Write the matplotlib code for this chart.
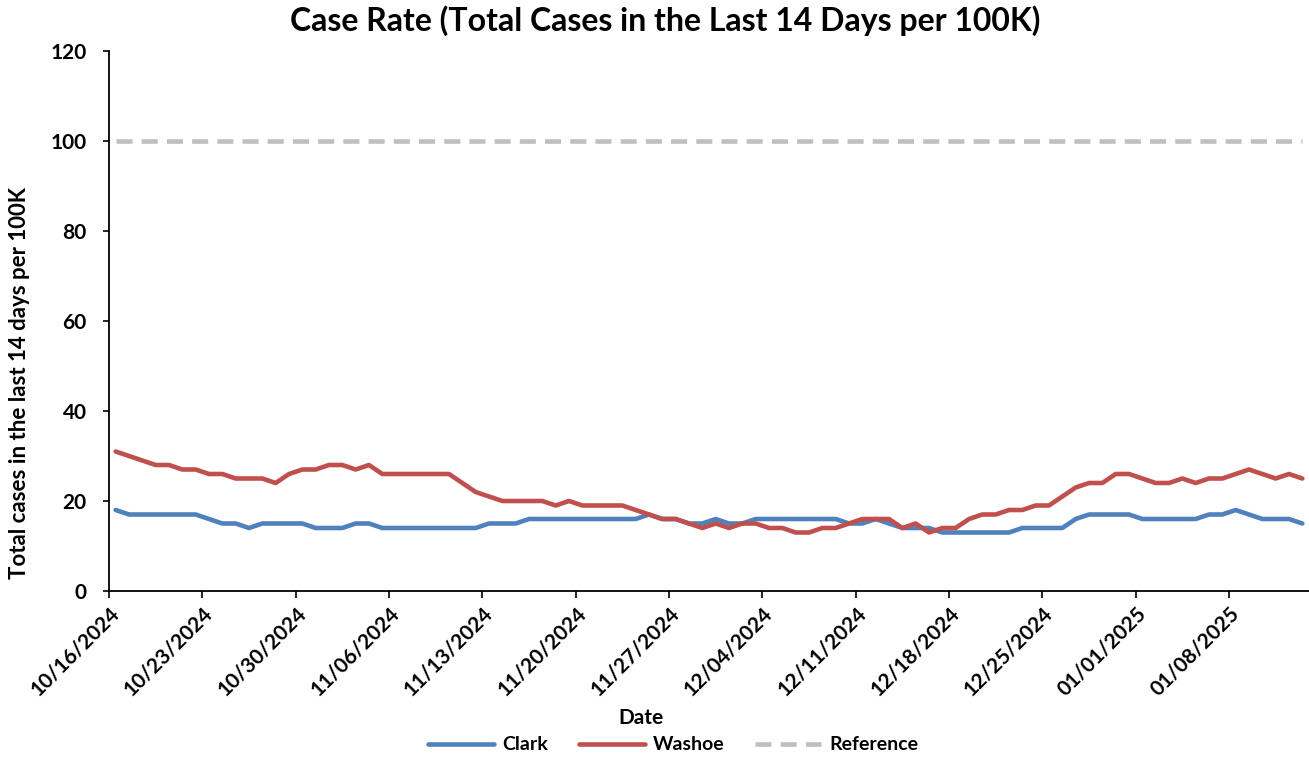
import matplotlib
matplotlib.use("Agg")
import matplotlib.pyplot as plt
import numpy as np

plt.rcParams['font.family'] = ['Lato', 'DejaVu Sans']

tick_labels = ["10/16/2024", "10/23/2024", "10/30/2024", "11/06/2024", "11/13/2024",
               "11/20/2024", "11/27/2024", "12/04/2024", "12/11/2024", "12/18/2024",
               "12/25/2024", "01/01/2025", "01/08/2025"]

clark = [18, 17, 17, 17, 17, 17, 17, 16, 15, 15, 14, 15, 15,
         15, 15, 14, 14, 14, 15, 15, 14, 14, 14, 14, 14, 14,
         14, 14, 15, 15, 15, 16, 16, 16, 16, 16, 16, 16, 16,
         16, 17, 16, 16, 15, 15, 16, 15, 15, 16, 16, 16,
         16, 16, 16, 16, 15, 15, 16, 15, 14, 14, 14, 13, 13,
         13, 13, 13, 13, 14, 14, 14, 14, 16, 17, 17, 17, 17,
         16, 16, 16, 16, 16, 17, 17, 18, 17, 16, 16, 16, 15]

washoe = [31, 30, 29, 28, 28, 27, 27, 26, 26, 25, 25, 25, 24,
          26, 27, 27, 28, 28, 27, 28, 26, 26, 26, 26, 26, 26,
          24, 22, 21, 20, 20, 20, 20, 19, 20, 19, 19, 19, 19,
          18, 17, 16, 16, 15, 14, 15, 14, 15, 15, 14, 14,
          13, 13, 14, 14, 15, 16, 16, 16, 14, 15, 13, 14, 14,
          16, 17, 17, 18, 18, 19, 19, 21, 23, 24, 24, 26, 26,
          25, 24, 24, 25, 24, 25, 25, 26, 27, 26, 25, 26, 25]

reference = [100] * len(clark)

days = np.arange(len(clark))

fig = plt.figure(figsize=(13.09, 7.58), dpi=100)
ax = fig.add_axes([109/1309, 1 - 591/758, 1 - 109/1309, (591 - 51)/758])

lw = 3.3
ax.plot(days, clark, color='#4F81BD', lw=lw, label='Clark', solid_joinstyle='round', solid_capstyle='round')
ax.plot(days, washoe, color='#C0504D', lw=lw, label='Washoe', solid_joinstyle='round', solid_capstyle='round')
ax.plot(days, reference, color='#BFBFBF', lw=lw, ls=(0, (3.5, 2)), label='Reference')

ax.set_xlim(-0.5, len(clark) - 0.5)
ax.set_ylim(0, 120)
ax.set_yticks(np.arange(0, 121, 20))
ax.set_xticks(np.arange(len(tick_labels)) * 7 - 0.5)
ax.set_xticklabels(tick_labels, rotation=45, ha='right', rotation_mode='anchor',
                   fontsize=15, fontweight='bold')
for t in ax.get_yticklabels():
    t.set_fontsize(15)
    t.set_fontweight('bold')

ax.spines['top'].set_visible(False)
ax.spines['right'].set_visible(False)
ax.spines['left'].set_linewidth(1.3)
ax.spines['bottom'].set_linewidth(1.3)
ax.tick_params(axis='x', direction='out', length=5, width=1.2, pad=4)
ax.tick_params(axis='y', direction='out', length=4, width=1.2, pad=12)

fig.text(641/1309, 1 - 718/758, 'Date', fontsize=15, fontweight='bold', ha='center', va='center')
fig.text(20/1309, 1 - 383/758, 'Total cases in the last 14 days per 100K', fontsize=16,
         fontweight='bold', rotation=90, ha='center', va='center')

fig.suptitle('Case Rate (Total Cases in the Last 14 Days per 100K)', fontsize=23,
             fontweight='bold', x=665/1309, y=1 - 21/758, va='center')

fig.legend(loc='center', bbox_to_anchor=(673/1309, 1 - 745/758), ncol=3, frameon=False,
           prop={'weight': 'bold', 'size': 14}, handlelength=3.4, columnspacing=1.6,
           handletextpad=0.4)

fig.savefig('out.png', dpi=100)
